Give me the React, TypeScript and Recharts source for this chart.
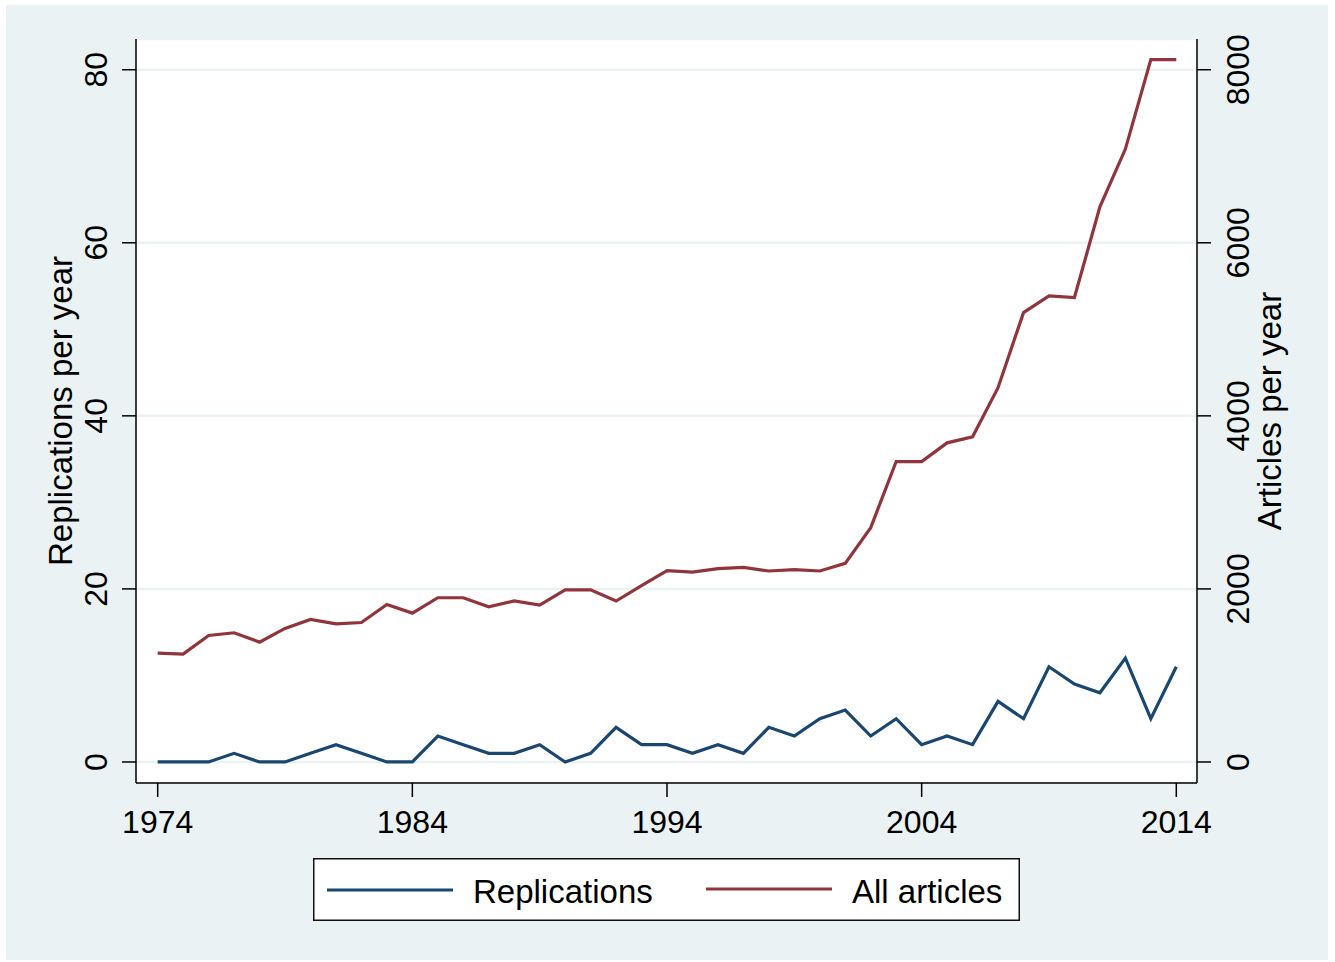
import React from 'react';
import { LineChart, Line, XAxis, YAxis, CartesianGrid, Legend } from 'recharts';

const years = [
  1974, 1975, 1976, 1977, 1978, 1979, 1980, 1981, 1982, 1983,
  1984, 1985, 1986, 1987, 1988, 1989, 1990, 1991, 1992, 1993,
  1994, 1995, 1996, 1997, 1998, 1999, 2000, 2001, 2002, 2003,
  2004, 2005, 2006, 2007, 2008, 2009, 2010, 2011, 2012, 2013, 2014,
];

const replications = [
  0, 0, 0, 1, 0, 0, 1, 2, 1, 0,
  0, 3, 2, 1, 1, 2, 0, 1, 4, 2,
  2, 1, 2, 1, 4, 3, 5, 6, 3, 5,
  2, 3, 2, 7, 5, 11, 9, 8, 12, 5, 11,
];

const articles = [
  1258, 1246, 1462, 1493, 1385, 1543, 1647, 1597, 1612, 1820,
  1720, 1898, 1898, 1794, 1862, 1813, 1990, 1990, 1860, 2037,
  2210, 2195, 2234, 2249, 2207, 2222, 2207, 2295, 2708, 3472,
  3472, 3688, 3758, 4325, 5193, 5386, 5367, 6416, 7083, 8117, 8117,
];

const xTicks = [1974, 1984, 1994, 2004, 2014];
const leftTicks = [0, 20, 40, 60, 80];
const rightTicks = [0, 2000, 4000, 6000, 8000];

const BG = '#eaf2f3';
const BLUE = '#1a476f';
const RED = '#90353b';
const FONT = "Arial, 'Liberation Sans', sans-serif";

const rows = years.map((y, i) => ({ year: y, rep: replications[i], art: articles[i] }));

const XTick = (p: any) => (
  <text x={p.x} y={p.y + 34} textAnchor="middle" fontSize={32} fontFamily={FONT} fill="#000">
    {p.payload.value}
  </text>
);

const LeftTick = (p: any) => {
  const bx = p.x - 13;
  return (
    <text x={bx} y={p.y} transform={`rotate(-90 ${bx} ${p.y})`} textAnchor="middle" fontSize={32} fontFamily={FONT} fill="#000">
      {p.payload.value}
    </text>
  );
};

const RightTick = (p: any) => {
  const bx = p.x + 36;
  return (
    <text x={bx} y={p.y} transform={`rotate(-90 ${bx} ${p.y})`} textAnchor="middle" fontSize={32} fontFamily={FONT} fill="#000">
      {p.payload.value}
    </text>
  );
};

const axisTitle = (text: string, dx: number) => (props: any) => {
  const vb = props.viewBox;
  const cx = vb.x + dx;
  const cy = vb.y + vb.height / 2;
  return (
    <text x={cx} y={cy} transform={`rotate(-90 ${cx} ${cy})`} textAnchor="middle" fontSize={33} fontFamily={FONT} fill="#000">
      {text}
    </text>
  );
};

const LegendBox = () => (
  <svg width={707} height={63} style={{ display: 'block' }}>
    <rect x={0.75} y={0.75} width={705.5} height={61.5} fill="#fff" stroke="#111" strokeWidth={1.5} />
    <line x1={14} x2={140} y1={32} y2={32} stroke={BLUE} strokeWidth={3.2} />
    <text x={160} y={45} fontSize={33} fontFamily={FONT} fill="#000">Replications</text>
    <line x1={393} x2={519} y1={31} y2={31} stroke={RED} strokeWidth={3.2} />
    <text x={539} y={45} fontSize={33} fontFamily={FONT} fill="#000">All articles</text>
  </svg>
);

export default function App() {
  return (
    <div style={{ position: 'absolute', left: 0, top: 0, width: 1335, height: 962, background: '#fff' }}>
      <div style={{ position: 'absolute', left: 6, top: 5, width: 1322, height: 955, background: BG }} />
      <div style={{ position: 'absolute', left: 0, top: 0 }}>
        <LineChart width={1335} height={962} data={rows} margin={{ top: 39, right: 0, bottom: 0, left: 0 }}>
          <CartesianGrid yAxisId="left" vertical={false} horizontal fill="#fff" stroke={BG} strokeWidth={2.5} />
          <XAxis
            dataKey="year"
            type="number"
            domain={[1973.148, 2014.813]}
            allowDataOverflow
            ticks={xTicks}
            height={179}
            tickSize={14}
            tick={<XTick />}
            axisLine={{ stroke: '#000', strokeWidth: 1.5 }}
            tickLine={{ stroke: '#000', strokeWidth: 1.5 }}
          />
          <YAxis
            yAxisId="left"
            orientation="left"
            type="number"
            domain={[-2.43, 83.55]}
            allowDataOverflow
            ticks={leftTicks}
            width={136}
            tickSize={14}
            tick={<LeftTick />}
            axisLine={{ stroke: '#000', strokeWidth: 1.5 }}
            tickLine={{ stroke: '#000', strokeWidth: 1.5 }}
            label={{ content: axisTitle('Replications per year', 72) }}
          />
          <YAxis
            yAxisId="right"
            orientation="right"
            type="number"
            domain={[-243, 8355]}
            allowDataOverflow
            ticks={rightTicks}
            width={138}
            tickSize={14}
            tick={<RightTick />}
            axisLine={{ stroke: '#000', strokeWidth: 1.5 }}
            tickLine={{ stroke: '#000', strokeWidth: 1.5 }}
            label={{ content: axisTitle('Articles per year', 84) }}
          />
          <Legend
            layout="horizontal"
            verticalAlign="middle"
            align="center"
            wrapperStyle={{ left: 313, top: 858, width: 707, height: 63 }}
            content={<LegendBox />}
          />
          <Line yAxisId="left" type="linear" dataKey="rep" name="Replications" stroke={BLUE} strokeWidth={3.2} dot={false} isAnimationActive={false} />
          <Line yAxisId="right" type="linear" dataKey="art" name="All articles" stroke={RED} strokeWidth={3.2} dot={false} isAnimationActive={false} />
        </LineChart>
      </div>
    </div>
  );
}
